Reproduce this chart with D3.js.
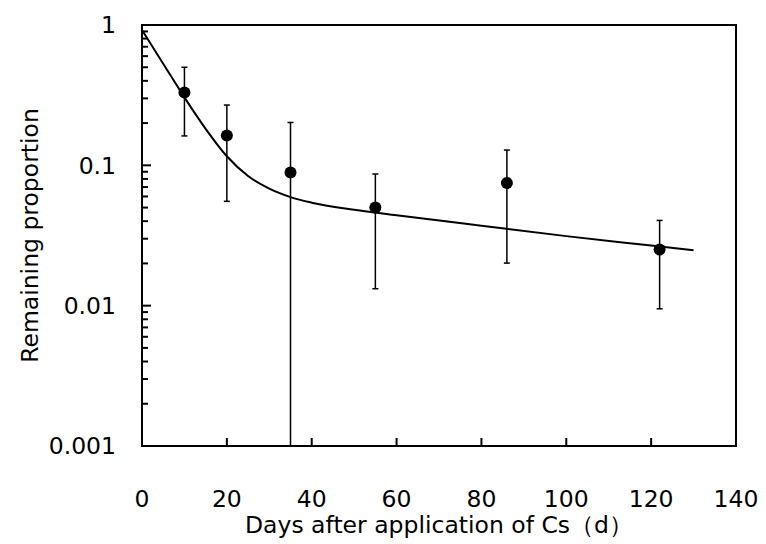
<!DOCTYPE html>
<html>
<head>
<meta charset="utf-8">
<script src="https://cdn.jsdelivr.net/npm/d3@7"></script>
<style>
  body { margin: 0; background: #fff; }
  text { font-family: "DejaVu Sans", Verdana, sans-serif; fill: #000; }
</style>
</head>
<body>
<div id="chart"></div>
<script>
// measured points
const days = [10, 20, 35, 55, 86, 122]
const proportion = [0.331, 0.163, 0.089, 0.050, 0.0748, 0.0251]
const errUpper = [0.50, 0.269, 0.202, 0.0867, 0.1285, 0.0405]
const errLower = [0.162, 0.0554, null, 0.0132, 0.0201, 0.0095]

// fitted curve
const fitDays = [0, 5, 10, 15, 20, 25, 30, 35, 40, 50, 60, 80, 100, 120, 130]
const fitValues = [0.92, 0.53, 0.305, 0.182, 0.116, 0.0839, 0.0682, 0.0594, 0.0542, 0.0483, 0.0441, 0.0371, 0.0313, 0.0268, 0.0248]

const xTicks = [0, 20, 40, 60, 80, 100, 120, 140]
const yTicks = [0.001, 0.01, 0.1, 1]
const yTickLabels = ["0.001", "0.01", "0.1", "1"]

const W = 766, H = 544
const MARGIN = {top: 25, right: 30, bottom: 98, left: 142}
const WIDTH = W - MARGIN.left - MARGIN.right
const HEIGHT = H - MARGIN.top - MARGIN.bottom
const FONT = 23.5

const svg = d3.select("#chart").append("svg")
  .attr("width", W).attr("height", H)

const g = svg.append("g")
  .attr("transform", "translate(" + MARGIN.left + "," + MARGIN.top + ")")

const x = d3.scaleLinear().domain([0, 140]).range([0, WIDTH])
const y = d3.scaleLog().domain([0.001, 1]).range([HEIGHT, 0])

// frame
g.append("rect")
  .attr("width", WIDTH).attr("height", HEIGHT)
  .attr("fill", "none").attr("stroke", "#000").attr("stroke-width", 2)

// x ticks (inward)
g.selectAll(".xt").data(xTicks).enter().append("line")
  .attr("x1", d => x(d)).attr("x2", d => x(d))
  .attr("y1", HEIGHT).attr("y2", HEIGHT - 8)
  .attr("stroke", "#000").attr("stroke-width", 2)

g.selectAll(".xl").data(xTicks).enter().append("text")
  .attr("x", d => x(d)).attr("y", HEIGHT + 61)
  .attr("text-anchor", "middle").attr("font-size", FONT)
  .text(d => d)

// y ticks: majors and minors
const minor = []
for (let e = -3; e < 0; e++) {
  for (let m = 2; m <= 9; m++) minor.push(m * Math.pow(10, e))
}
g.selectAll(".ymin").data(minor).enter().append("line")
  .attr("x1", 0).attr("x2", 6)
  .attr("y1", d => y(d)).attr("y2", d => y(d))
  .attr("stroke", "#000").attr("stroke-width", 2)
g.selectAll(".ymaj").data(yTicks).enter().append("line")
  .attr("x1", 0).attr("x2", 9)
  .attr("y1", d => y(d)).attr("y2", d => y(d))
  .attr("stroke", "#000").attr("stroke-width", 2)

g.selectAll(".yl").data(yTicks).enter().append("text")
  .attr("x", -26).attr("y", d => y(d))
  .attr("dy", "0.35em")
  .attr("text-anchor", "end").attr("font-size", FONT)
  .text((d, i) => yTickLabels[i])

// fitted curve
const line = d3.line()
  .x(d => x(d[0])).y(d => y(d[1]))
  .curve(d3.curveMonotoneX)
g.append("path")
  .datum(fitDays.map((d, i) => [d, fitValues[i]]))
  .attr("d", line)
  .attr("fill", "none").attr("stroke", "#000").attr("stroke-width", 2)

// error bars
const pts = days.map((d, i) => ({d, v: proportion[i], hi: errUpper[i], lo: errLower[i]}))
const eb = g.selectAll(".eb").data(pts).enter().append("g")
eb.append("line")
  .attr("x1", p => x(p.d)).attr("x2", p => x(p.d))
  .attr("y1", p => y(p.hi)).attr("y2", p => p.lo ? y(p.lo) : HEIGHT)
  .attr("stroke", "#000").attr("stroke-width", 1.5)
eb.append("line")
  .attr("x1", p => x(p.d) - 3).attr("x2", p => x(p.d) + 3)
  .attr("y1", p => y(p.hi)).attr("y2", p => y(p.hi))
  .attr("stroke", "#000").attr("stroke-width", 1.5)
eb.filter(p => p.lo).append("line")
  .attr("x1", p => x(p.d) - 3).attr("x2", p => x(p.d) + 3)
  .attr("y1", p => y(p.lo)).attr("y2", p => y(p.lo))
  .attr("stroke", "#000").attr("stroke-width", 1.5)

g.selectAll(".dot").data(pts).enter().append("circle")
  .attr("cx", p => x(p.d)).attr("cy", p => y(p.v))
  .attr("r", 6).attr("fill", "#000")

// axis titles
svg.append("text")
  .attr("x", MARGIN.left + WIDTH / 2).attr("y", 533)
  .attr("text-anchor", "middle").attr("font-size", FONT)
  .text("Days after application of Cs（d）")

svg.append("text")
  .attr("transform", "translate(38," + (MARGIN.top + HEIGHT / 2) + ") rotate(-90)")
  .attr("text-anchor", "middle").attr("font-size", FONT)
  .text("Remaining proportion")
</script>
</body>
</html>
